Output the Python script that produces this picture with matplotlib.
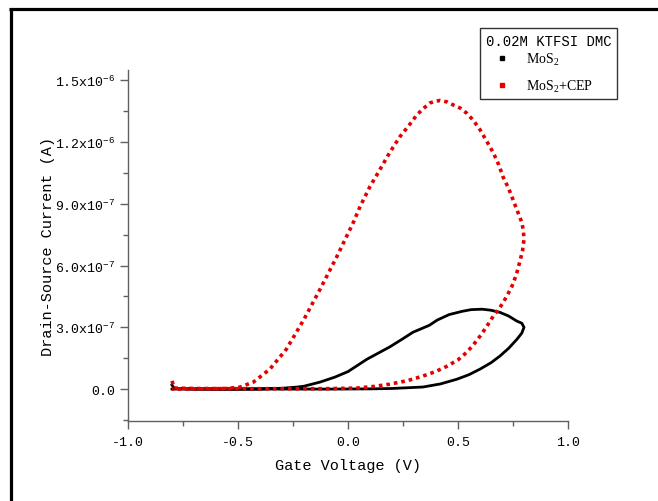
import matplotlib
matplotlib.use("Agg")
import matplotlib.pyplot as plt
from matplotlib.lines import Line2D
from matplotlib.ticker import FixedLocator, FixedFormatter, MultipleLocator

plt.rcParams['font.family'] = ['Liberation Mono', 'DejaVu Sans']
plt.rcParams['mathtext.default'] = 'regular'

# ---- data ----
mos2_v = [-0.80, -0.79, -0.70, -0.50, -0.30, -0.10, 0.10, 0.20, 0.34, 0.42, 0.495, 0.55, 0.60,
          0.65, 0.69, 0.73, 0.768, 0.79, 0.80,
          0.79, 0.768, 0.73, 0.69, 0.65, 0.61, 0.56, 0.52, 0.46, 0.405, 0.37, 0.295,
          0.25, 0.19, 0.086, 0.0, -0.06, -0.127, -0.20, -0.23, -0.30, -0.40, -0.60, -0.80]
mos2_i = [2.0e-8, 3e-9, 1e-9, 0.0, 0.0, 0.0, 1e-9, 3e-9, 1.0e-8, 2.5e-8, 4.8e-8, 7.0e-8, 9.7e-8,
          1.28e-7, 1.6e-7, 1.98e-7, 2.42e-7, 2.72e-7, 3.0e-7,
          3.2e-7, 3.3e-7, 3.55e-7, 3.73e-7, 3.83e-7, 3.88e-7, 3.86e-7, 3.78e-7, 3.62e-7, 3.35e-7, 3.1e-7, 2.76e-7,
          2.45e-7, 2.05e-7, 1.45e-7, 8.5e-8, 5.8e-8, 3.4e-8, 1.4e-8, 1.0e-8, 4e-9, 1e-9, 0.0, 0.0]

cep_v = [-0.80, -0.79, -0.70, -0.50, -0.30, -0.10, 0.04, 0.12, 0.19, 0.27, 0.34, 0.40, 0.45,
         0.50, 0.54, 0.57, 0.60, 0.63, 0.66, 0.685, 0.705, 0.725, 0.745, 0.765, 0.78, 0.793, 0.80,
         0.797, 0.79, 0.77, 0.75, 0.73, 0.705, 0.685, 0.66, 0.63, 0.60, 0.57, 0.54, 0.51,
         0.477, 0.45, 0.418, 0.395, 0.373, 0.345, 0.314, 0.28, 0.236, 0.19, 0.145, 0.10,
         0.055, 0.024, -0.05, -0.127, -0.20, -0.28, -0.355, -0.43, -0.49, -0.55, -0.65, -0.80]
cep_i = [4.0e-8, 5e-9, 3e-9, 2e-9, 2e-9, 2e-9, 5e-9, 1.3e-8, 2.4e-8, 4.1e-8, 6.3e-8, 8.6e-8, 1.11e-7,
         1.42e-7, 1.79e-7, 2.15e-7, 2.57e-7, 3.03e-7, 3.54e-7, 3.88e-7, 4.2e-7, 4.58e-7, 4.99e-7, 5.55e-7, 6.15e-7, 6.7e-7, 7.27e-7,
         7.7e-7, 8.1e-7, 8.65e-7, 9.2e-7, 9.75e-7, 1.03e-6, 1.09e-6, 1.149e-6, 1.205e-6, 1.26e-6, 1.305e-6, 1.34e-6, 1.365e-6,
         1.381e-6, 1.395e-6, 1.402e-6, 1.398e-6, 1.39e-6, 1.365e-6, 1.333e-6, 1.285e-6, 1.226e-6, 1.15e-6, 1.066e-6, 9.84e-7,
         8.87e-7, 8.09e-7, 6.45e-7, 4.85e-7, 3.39e-7, 1.94e-7, 9.7e-8, 3.4e-8, 1.0e-8, 3e-9, 1e-9, 0.0]

x_ticks = [-1.0, -0.5, 0.0, 0.5, 1.0]
x_tick_labels = ["-1.0", "-0.5", "0.0", "0.5", "1.0"]
y_ticks = [0.0, 3e-7, 6e-7, 9e-7, 1.2e-6, 1.5e-6]
y_tick_labels = ["0.0", "3.0x10$^{-7}$", "6.0x10$^{-7}$", "9.0x10$^{-7}$",
                 "1.2x10$^{-6}$", "1.5x10$^{-6}$"]
series_labels = ["MoS$_2$", "MoS$_2$+CEP"]
legend_title = "0.02M KTFSI DMC"

RED = '#e30000'
W, H = 658, 502
fig = plt.figure(figsize=(W / 100, H / 100), dpi=100)
ax = fig.add_axes([128 / W, (H - 422) / H, 440 / W, 351 / H])

ax.plot(mos2_v, mos2_i, color='black', lw=2.0, solid_joinstyle='round')
ax.plot(cep_v, cep_i, color=RED, lw=2.6, linestyle=(0, (1.0, 1.1)),
        dash_capstyle='butt')

ax.set_xlim(-1.0, 1.0)
ax.set_ylim(-1.55e-7, 1.55e-6)

ax.xaxis.set_major_locator(FixedLocator(x_ticks))
ax.xaxis.set_major_formatter(FixedFormatter(x_tick_labels))
ax.xaxis.set_minor_locator(MultipleLocator(0.25))
ax.yaxis.set_major_locator(FixedLocator(y_ticks))
ax.yaxis.set_major_formatter(FixedFormatter(y_tick_labels))
ax.yaxis.set_minor_locator(MultipleLocator(1.5e-7))

for s in ['top', 'right']:
    ax.spines[s].set_visible(False)
for s in ['left', 'bottom']:
    ax.spines[s].set_color('#606060')
    ax.spines[s].set_linewidth(1.0)

ax.tick_params(which='major', direction='out', length=6, width=1, color='#606060',
               labelsize=9.5, pad=3)
ax.tick_params(axis='x', which='major', pad=5)
ax.tick_params(which='minor', direction='out', length=3.5, width=1, color='#606060')

ax.set_xlabel("Gate Voltage (V)", fontsize=11, labelpad=7)
ax.set_ylabel("Drain-Source Current (A)", fontsize=11, labelpad=0)

handles = [Line2D([], [], color='black', marker='s', markersize=2.2, linestyle='none'),
           Line2D([], [], color=RED, marker='s', markersize=2.2, linestyle='none')]
leg = fig.legend(handles, series_labels, title=legend_title,
                 loc='upper right', bbox_to_anchor=(617 / W, 1 - 29 / H),
                 frameon=True, fancybox=False, borderaxespad=0, borderpad=0.4,
                 handlelength=2.3, handletextpad=0.6, labelspacing=0.75,
                 prop={'family': 'Liberation Serif', 'size': 10},
                 title_fontproperties={'family': 'Liberation Mono', 'size': 10})
leg.get_frame().set_edgecolor('black')
leg.get_frame().set_linewidth(1.0)
leg._legend_box.align = "left"
leg._legend_box.sep = 2.5

# outer frame lines (top and left)
fig.add_artist(Line2D([9 / W, 1.0], [1 - 10 / H, 1 - 10 / H], transform=fig.transFigure,
                      color='black', lw=2.3, solid_capstyle='butt'))
fig.add_artist(Line2D([10.5 / W, 10.5 / W], [0.0, 1 - 8.5 / H], transform=fig.transFigure,
                      color='black', lw=2.3, solid_capstyle='butt'))

fig.savefig("out.png", dpi=100)
